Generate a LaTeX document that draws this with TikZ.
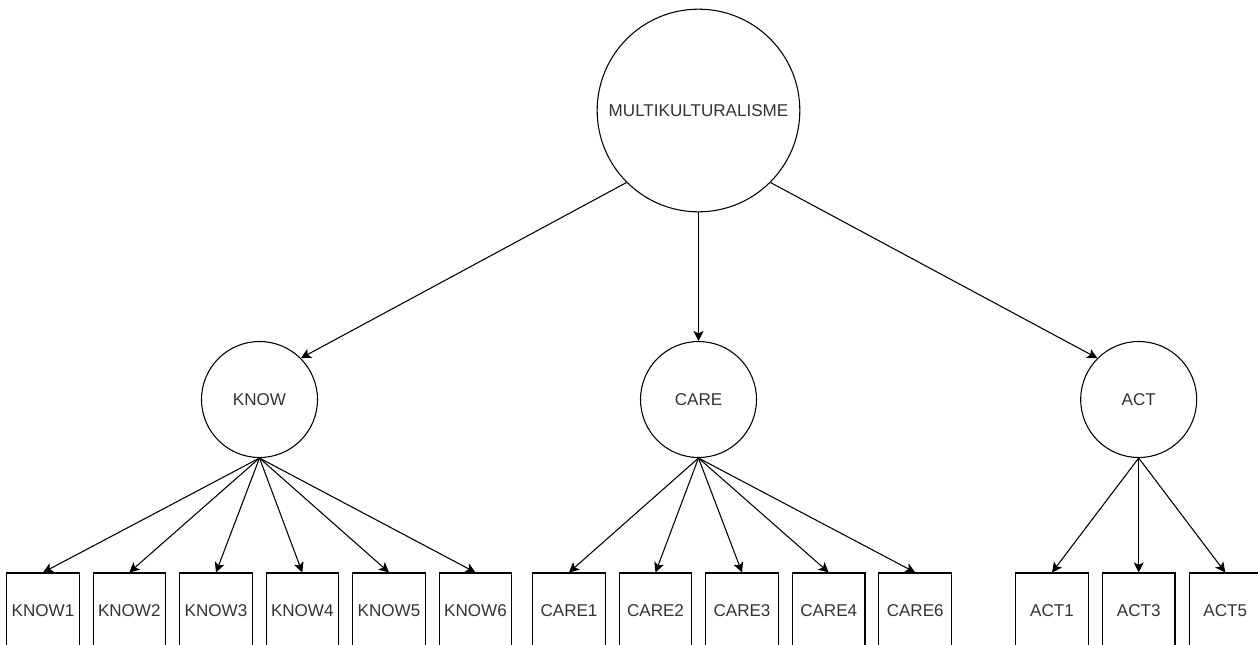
\documentclass[tikz,border=0pt]{standalone}
\usepackage{fontspec}
\setmainfont{Liberation Sans}
\usetikzlibrary{arrows.meta}
\begin{document}
\begin{tikzpicture}[x=0.75pt,y=-0.75pt,
  every node/.style={font=\fontsize{12.8}{15}\selectfont, text=black!80, inner sep=0pt},
  latent/.style={draw, circle, line width=0.8pt, minimum size=87pt},
  biglatent/.style={draw, circle, line width=0.8pt, minimum size=152pt},
  item/.style={draw, rectangle, line width=0.8pt, minimum width=54.4pt, minimum height=57pt},
  arr/.style={line width=0.8pt, -{Stealth[length=7.5pt, width=7.5pt, inset=1.8pt]}}]
\useasboundingbox (0,0) rectangle (1258,644);
\clip (0,0) rectangle (1258,644);
\node[biglatent] (m) at (698.5,110.5) {MULTIKULTURALISME};
\node[latent] (know) at (259.5,399.5) {KNOW};
\node[latent] (care) at (698.5,399.5) {CARE};
\node[latent] (act) at (1138.7,399.5) {ACT};
\foreach \n/\x in {1/43,2/129.3,3/216,4/302.3,5/389,6/475.5}
  \node[item] (k\n) at (\x,611) {KNOW\n};
\foreach \n/\lab/\x in {1/1/569,2/2/655.5,3/3/742,4/4/828.7,5/6/915.2}
  \node[item] (c\n) at (\x,611) {CARE\lab};
\foreach \n/\lab/\x in {1/1/1052,2/3/1138.7,3/5/1225.3}
  \node[item] (a\n) at (\x,611) {ACT\lab};
\draw[arr] (m.225) -- (know.45);
\draw[arr] (m.south) -- (care.north);
\draw[arr] (m.-45) -- (act.135);
\foreach \n in {1,...,6} \draw[arr] (know.south) -- (k\n.north);
\foreach \n in {1,...,5} \draw[arr] (care.south) -- (c\n.north);
\foreach \n in {1,...,3} \draw[arr] (act.south) -- (a\n.north);
\end{tikzpicture}
\end{document}
